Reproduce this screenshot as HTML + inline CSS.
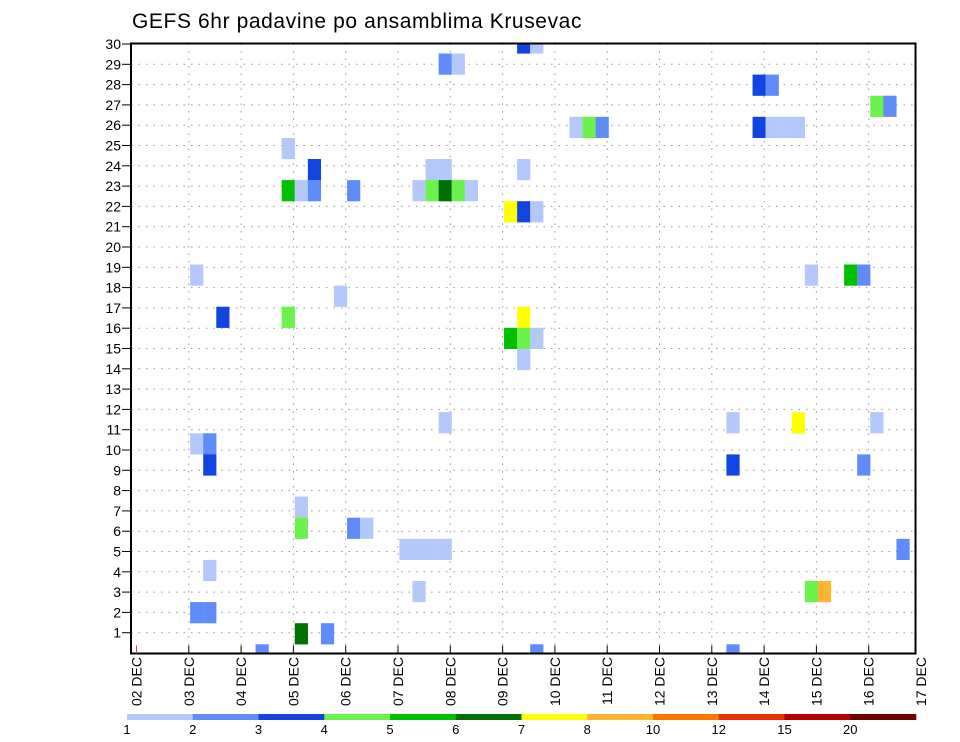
<!DOCTYPE html>
<html><head><meta charset="utf-8"><style>
html,body{margin:0;padding:0;background:#fff;}
svg{display:block;font-family:"Liberation Sans",sans-serif;}
</style></head><body>
<svg id="chart" width="960" height="742" viewBox="0 0 960 742" xmlns="http://www.w3.org/2000/svg">
<text x="132" y="28" font-size="21" fill="#000" letter-spacing="0.6">GEFS 6hr padavine po ansamblima Krusevac</text>
<defs><clipPath id="plotclip"><rect x="131" y="43.5" width="784.5" height="610"/></clipPath></defs>
<g id="grid"></g>
<g id="cells" clip-path="url(#plotclip)"></g>
<g id="axes"></g>
<g id="cbar"></g>
</svg>
<script>
// categories / tick labels
const dayLabels = ["02 DEC","03 DEC","04 DEC","05 DEC","06 DEC","07 DEC","08 DEC","09 DEC","10 DEC","11 DEC","12 DEC","13 DEC","14 DEC","15 DEC","16 DEC","17 DEC"];
const memberLabels = [1,2,3,4,5,6,7,8,9,10,11,12,13,14,15,16,17,18,19,20,21,22,23,24,25,26,27,28,29,30];
const levelLabels = ["1","2","3","4","5","6","7","8","10","12","15","20"];
const levelColors = ["#b4c8fa","#5f8cf8","#1244e2","#6cf24c","#00c000","#007000","#ffff00","#ffb432","#fa7800","#e63200","#b40000","#6e0000"];
// cells: 6h time step index, ensemble member row, precip level index
const cellTime   = [29,30, 23,24, 47,48, 56,57, 33,34,35,47,48,49,50, 11, 13,22,23,29, 11,12,13,16,21,22,23,24,25, 28,29,30, 4,51,54,55, 15, 6,11,29, 28,29,30, 29, 23,45,50,56, 4,5, 5,45,55, 12, 12,16,17, 20,21,22,23,58, 5, 21,51,52, 4,5, 12,14, 9,30,45];
const cellMember = [29,29, 28,28, 27,27, 26,26, 25,25,25,25,25,25,25, 24, 23,23,23,23, 22,22,22,22,22,22,22,22,22, 21,21,21, 18,18,18,18, 17, 16,16,16, 15,15,15, 14, 11,11,11,11, 10,10, 9,9,9, 7, 6,6,6, 5,5,5,5,5, 4, 3,3,3, 2,2, 1,1, 0,0,0];
const cellLevel  = [2,0, 1,0, 2,1, 3,1, 0,3,1,2,0,0,0, 0, 2,0,0,0, 4,0,1,1,0,3,5,3,0, 6,2,0, 0,0,4,1, 0, 2,3,6, 4,3,0, 0, 0,0,6,0, 0,1, 2,2,1, 0, 3,1,0, 0,0,0,0,1, 0, 0,3,7, 1,1, 5,1, 1,1,1];

const NS="http://www.w3.org/2000/svg";
const PL=131, PR=915.5, PT=43.5, PB=653.5;
function xDay(d){return 136.5+52.3*d;}
function xCell(i){return 137.8+13.08*i;}
function yTick(k){return 653-20.3*k;}
function yCell(m){return 644.3-21.1*m;}
function mk(tag,attrs,parent){const e=document.createElementNS(NS,tag);for(const k in attrs)e.setAttribute(k,attrs[k]);parent.appendChild(e);return e;}

const grid=document.getElementById('grid');
for(let k=0;k<memberLabels.length;k++){
  const l=mk('line',{x1:PL,x2:PR,y1:yTick(memberLabels[k]),y2:yTick(memberLabels[k]),stroke:'#999','stroke-width':1,'stroke-dasharray':'1.5 6'},grid);
  
  
}
for(let d=1;d<dayLabels.length;d++){
  const x=xDay(d); if(x>PR) continue;
  const l=mk('line',{x1:x,x2:x,y1:PT,y2:PB,stroke:'#999','stroke-width':1,'stroke-dasharray':'1.5 6'},grid);
  
  
}

const cells=document.getElementById('cells');
for(let n=0;n<cellTime.length;n++){
  const r=mk('rect',{x:xCell(cellTime[n]),y:yCell(cellMember[n]),width:13.2,height:21.2,fill:levelColors[cellLevel[n]]},cells);
  
  
}

const axes=document.getElementById('axes');
const frame=mk('rect',{x:PL,y:PT,width:PR-PL,height:PB-PT,fill:'none',stroke:'#000','stroke-width':2},axes);


for(let k=0;k<memberLabels.length;k++){
  const y=yTick(memberLabels[k]);
  mk('line',{x1:122,x2:PL,y1:y,y2:y,stroke:'#000','stroke-width':1},axes);
  const t=mk('text',{x:121,y:y+5,'font-size':14,'text-anchor':'end',fill:'#000'},axes);
  t.textContent=memberLabels[k];
  
  
}
for(let d=0;d<dayLabels.length;d++){
  const x=xDay(d);
  if(x<=PR+1) mk('line',{x1:x,x2:x,y1:PB-8,y2:PB,stroke:d==0?'#c44':'#000','stroke-width':1},axes);
  const t=mk('text',{x:0,y:0,'font-size':14,'text-anchor':'end',fill:'#000',transform:'translate('+(x+5)+',657) rotate(-90)'},axes);
  t.textContent=dayLabels[d];
  
  
}

const cbar=document.getElementById('cbar');
const cbL=127, cbW=(916-127)/levelColors.length;
for(let k=0;k<levelColors.length;k++){
  const r=mk('rect',{x:cbL+k*cbW,y:714,width:cbW+0.3,height:6,fill:levelColors[k]},cbar);
  
  
  const t=mk('text',{x:cbL+k*cbW,y:734,'font-size':13,'text-anchor':'middle',fill:'#000'},cbar);
  t.textContent=levelLabels[k];
  
  
}
</script>
</body></html>
